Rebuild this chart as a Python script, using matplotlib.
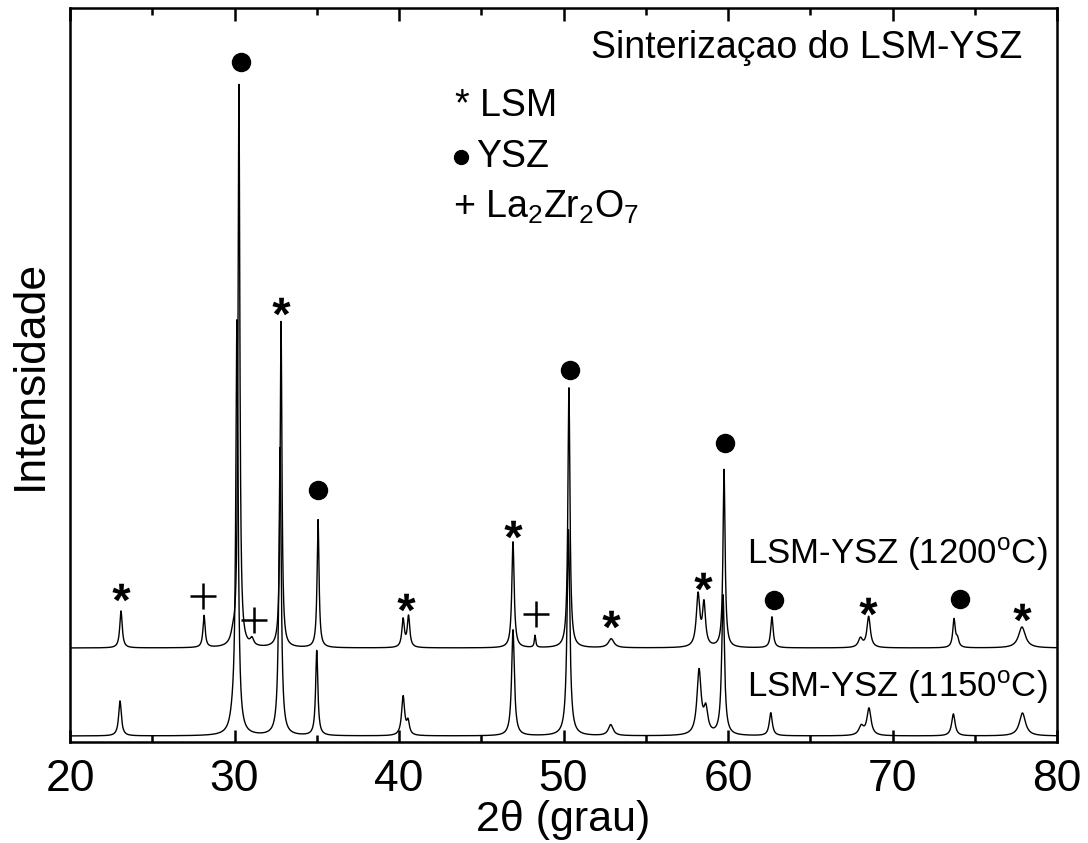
import numpy as np
import matplotlib
matplotlib.use("Agg")
import matplotlib.pyplot as plt
from matplotlib.textpath import TextPath
from matplotlib.font_manager import FontProperties
from matplotlib.path import Path
from matplotlib.ticker import MultipleLocator

plt.rcParams['font.family'] = ['Liberation Sans', 'DejaVu Sans']
plt.rcParams['mathtext.fontset'] = 'custom'
plt.rcParams['mathtext.rm'] = 'Liberation Sans'
plt.rcParams['mathtext.it'] = 'Liberation Sans:italic'
plt.rcParams['mathtext.bf'] = 'Liberation Sans:bold'

# ---- data ----
# 1200 C pattern: peak positions (2theta), heights, widths
pos_1200 = [23.10, 28.15, 29.90, 30.27, 31.06, 32.83, 35.08, 40.25, 40.58, 46.93, 48.27,
            50.33, 52.90, 58.18, 58.54, 59.76, 62.67, 68.05, 68.55, 73.74, 73.95, 77.87]
hgt_1200 = [37, 32, 8, 562, 7, 326, 128, 28, 31, 106, 12,
            260, 9, 52, 42, 178, 31, 9, 31, 28, 8, 21]
fwhm_1200 = [0.18, 0.16, 0.30, 0.13, 0.25, 0.13, 0.14, 0.18, 0.18, 0.17, 0.10,
             0.15, 0.40, 0.25, 0.22, 0.15, 0.18, 0.30, 0.25, 0.18, 0.20, 0.50]
base_1200 = 94

# 1150 C pattern
pos_1150 = [23.04, 29.90, 30.15, 32.77, 35.00, 40.25, 40.55, 46.93, 50.30, 52.87,
            58.24, 58.65, 59.70, 62.60, 68.10, 68.57, 73.70, 77.90]
hgt_1150 = [35, 10, 412, 288, 85, 39, 13, 106, 206, 11,
            64, 24, 140, 23, 9, 27, 22, 23]
fwhm_1150 = [0.20, 0.40, 0.17, 0.17, 0.16, 0.22, 0.20, 0.20, 0.20, 0.35,
             0.30, 0.30, 0.20, 0.22, 0.35, 0.30, 0.25, 0.45]
base_1150 = 6

# phase markers: (2theta, height, symbol)
mark_x = [23.1, 28.1, 30.4, 31.2, 32.8, 35.1, 40.4, 46.9, 48.3, 50.4, 52.9, 58.5, 59.8, 62.8, 68.5, 74.1, 77.9]
mark_y = [150, 146, 680, 122, 436, 252, 140, 213, 128, 372, 123, 161, 299, 142, 136, 143, 130]
mark_s = ['*', '+', 'o', '+', '*', 'o', '*', '*', '+', 'o', '*', '*', 'o', 'o', '*', 'o', '*']

x = np.linspace(20, 80, 6001)


def pattern(pos, hgt, fw, base):
    y = np.full_like(x, float(base))
    for p, h, w in zip(pos, hgt, fw):
        y += h / (1 + ((x - p) / (w / 2)) ** 2)
    return y


fig = plt.figure(figsize=(10.88, 8.43), dpi=100)
ax = fig.add_axes([70 / 1088, 1 - 742 / 843, 987 / 1088, 734 / 843])

ax.plot(x, pattern(pos_1150, hgt_1150, fwhm_1150, base_1150), color='black', lw=1.0)
ax.plot(x, pattern(pos_1200, hgt_1200, fwhm_1200, base_1200), color='black', lw=1.0)

# asterisk marker from Liberation Sans Bold glyph
tp = TextPath((0, 0), '*', prop=FontProperties(family='Liberation Sans', weight='bold'), size=10)
v = tp.vertices.copy()
ext = tp.get_extents()
v[:, 0] -= (ext.x0 + ext.x1) / 2
v[:, 1] -= (ext.y0 + ext.y1) / 2
star_path = Path(v, tp.codes)

for mx, my, ms in zip(mark_x, mark_y, mark_s):
    if ms == '*':
        ax.plot([mx], [my], marker=star_path, ms=34, color='black', mew=0, linestyle='none')
    elif ms == 'o':
        ax.plot([mx], [my], marker='o', ms=13, color='black', linestyle='none')
    else:
        ax.plot([mx], [my], marker='+', ms=19, mew=1.8, color='black', linestyle='none')

ax.set_xlim(20, 80)
ax.set_ylim(0, 734)
ax.xaxis.set_major_locator(MultipleLocator(10))
ax.xaxis.set_minor_locator(MultipleLocator(5))
ax.tick_params(axis='x', which='both', direction='in', top=True, bottom=True, width=1.8,
               labelsize=32, pad=12)
ax.tick_params(axis='x', which='major', length=9)
ax.tick_params(axis='x', which='minor', length=5)
ax.set_yticks([])
for s in ax.spines.values():
    s.set_linewidth(1.8)

ax.set_xlabel('2θ (grau)', fontsize=31, labelpad=0)
ax.set_ylabel('Intensidade', fontsize=32, labelpad=14)

ax.text(0.965, 0.946, 'Sinterizaçao do LSM-YSZ', transform=ax.transAxes, fontsize=27,
        ha='right', va='center')
ax.text(0.39, 0.866, '* LSM', transform=ax.transAxes, fontsize=27, ha='left', va='center')
ax.plot([0.396], [0.797], marker='o', ms=10, color='black', transform=ax.transAxes,
        linestyle='none')
ax.text(0.412, 0.797, 'YSZ', transform=ax.transAxes, fontsize=27, ha='left', va='center')
ax.text(0.388, 0.729, '+ La$_2$Zr$_2$O$_7$', transform=ax.transAxes, fontsize=27, ha='left',
        va='center')
ax.text(0.99, 0.256, 'LSM-YSZ (1200$^{\\mathrm{o}}$C)', transform=ax.transAxes, fontsize=25,
        ha='right', va='center')
ax.text(0.99, 0.074, 'LSM-YSZ (1150$^{\\mathrm{o}}$C)', transform=ax.transAxes, fontsize=25,
        ha='right', va='center')

fig.savefig('out.png', dpi=100)
